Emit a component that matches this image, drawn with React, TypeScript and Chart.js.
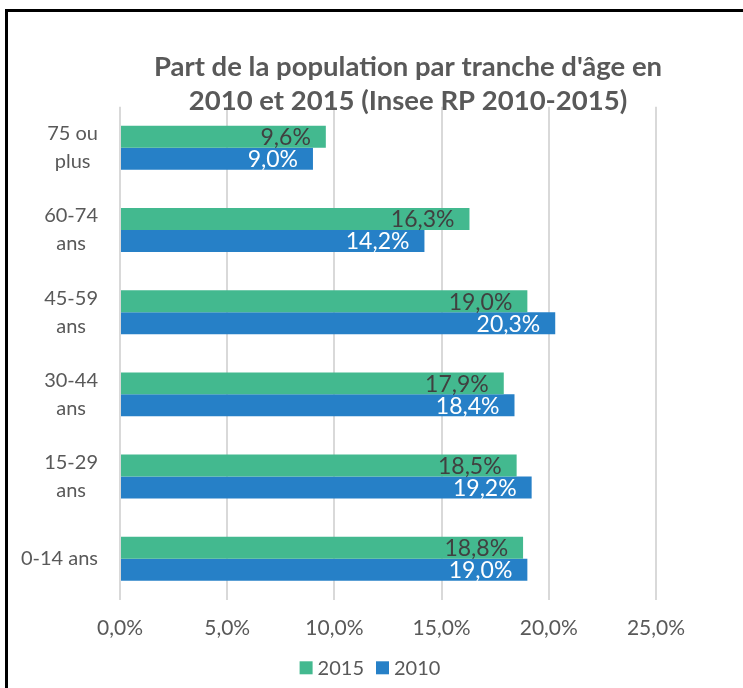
import React, { useEffect, useRef } from "react";
import { Chart, registerables } from "chart.js";

Chart.register(...registerables);

const categories: (string | string[])[] = [
  ["75 ou", "plus"],
  ["60-74", "ans"],
  ["45-59", "ans"],
  ["30-44", "ans"],
  ["15-29", "ans"],
  "0-14 ans",
];
const values2015 = [9.6, 16.3, 19.0, 17.9, 18.5, 18.8];
const values2010 = [9.0, 14.2, 20.3, 18.4, 19.2, 19.0];
const seriesNames = ["2015", "2010"];
const seriesColors = ["#43B98F", "#2680C7"];
const labelColors = ["#404040", "#FFFFFF"];
const titleLines = ["Part de la population par tranche d'âge en", "2010 et 2015 (Insee RP 2010-2015)"];

const FONT = "Lato, 'Open Sans', sans-serif";
const TEXT = "#595959";
const fmt = (v: number) => v.toFixed(1).replace(".", ",") + "%";

const dataLabelPlugin = {
  id: "dataLabels",
  afterDatasetsDraw(chart: any) {
    const ctx = chart.ctx;
    ctx.save();
    ctx.font = `23px ${FONT}`;
    ctx.textAlign = "right";
    ctx.textBaseline = "middle";
    chart.data.datasets.forEach((ds: any, di: number) => {
      const meta = chart.getDatasetMeta(di);
      meta.data.forEach((bar: any, i: number) => {
        ctx.fillStyle = labelColors[di];
        ctx.fillText(fmt(ds.data[i]), bar.x - 15, bar.y + 1);
      });
    });
    ctx.restore();
  },
};

const yLabelPlugin = {
  id: "yLabels",
  afterDraw(chart: any) {
    const ctx = chart.ctx;
    const ys = chart.scales.y;
    ctx.save();
    ctx.font = `20px ${FONT}`;
    ctx.fillStyle = TEXT;
    ctx.textAlign = "center";
    ctx.textBaseline = "middle";
    const lineH = 28;
    const right = chart.chartArea.left - 22;
    categories.forEach((c, i) => {
      const lines = Array.isArray(c) ? c : [c];
      const w = Math.max(...lines.map((l) => ctx.measureText(l).width));
      const cx = right - w / 2;
      const cy = ys.getPixelForTick(i);
      lines.forEach((l, k) => {
        ctx.fillText(l, cx, cy + (k - (lines.length - 1) / 2) * lineH);
      });
    });
    ctx.restore();
  },
};

const legendPlugin = {
  id: "customLegend",
  afterDraw(chart: any) {
    const ctx = chart.ctx;
    const area = chart.chartArea;
    ctx.save();
    ctx.font = `20px ${FONT}`;
    ctx.textBaseline = "middle";
    ctx.textAlign = "left";
    const box = 13;
    const gap = 5;
    const between = 12;
    const widths = seriesNames.map((n) => ctx.measureText(n).width);
    const total = widths.reduce((a, w) => a + box + gap + w, 0) + between * (seriesNames.length - 1);
    let x = (area.left + area.right) / 2 - 18 - total / 2;
    const y = area.bottom + 68;
    seriesNames.forEach((n, i) => {
      ctx.fillStyle = seriesColors[i];
      ctx.fillRect(x, y - box / 2, box, box);
      x += box + gap;
      ctx.fillStyle = TEXT;
      ctx.fillText(n, x, y + 1);
      x += widths[i] + between;
    });
    ctx.restore();
  },
};

export default function App() {
  const ref = useRef<HTMLCanvasElement>(null);
  useEffect(() => {
    if (!ref.current) return;
    const chart = new Chart(ref.current, {
      type: "bar",
      data: {
        labels: categories,
        datasets: [
          {
            label: seriesNames[0],
            data: values2015,
            backgroundColor: seriesColors[0],
            categoryPercentage: 0.535,
            barPercentage: 1,
          },
          {
            label: seriesNames[1],
            data: values2010,
            backgroundColor: seriesColors[1],
            categoryPercentage: 0.535,
            barPercentage: 1,
          },
        ],
      },
      options: {
        indexAxis: "y",
        animation: false,
        responsive: true,
        maintainAspectRatio: false,
        layout: { padding: { left: 14, right: 14, top: 12, bottom: 31 } },
        plugins: {
          legend: { display: false },
          tooltip: { enabled: false },
          title: {
            display: true,
            text: titleLines,
            color: TEXT,
            font: { family: FONT, size: 27.5, weight: "bold", lineHeight: 1.25 },
            padding: { top: 38, bottom: -12 },
          },
        },
        scales: {
          x: {
            min: 0,
            max: 25,
            ticks: {
              stepSize: 5,
              padding: 16,
              color: TEXT,
              font: { family: FONT, size: 21 },
              callback: (v: any) => fmt(Number(v)),
            },
            grid: { color: "#D9D9D9", lineWidth: 2, drawTicks: false },
            border: { display: false },
          },
          y: {
            ticks: { display: false },
            grid: { display: false, drawTicks: false },
            border: { display: false },
            afterFit: (s: any) => {
              s.width = 106;
            },
          },
          yRight: {
            type: "category",
            position: "right",
            ticks: { display: false },
            grid: { display: false, drawTicks: false },
            border: { display: false },
            afterFit: (s: any) => {
              s.width = 146;
            },
          },
        },
      },
      plugins: [dataLabelPlugin, yLabelPlugin, legendPlugin],
    } as any);
    return () => chart.destroy();
  }, []);

  return (
    <div style={{ position: "fixed", left: 0, top: 0, width: 743, height: 688, overflow: "hidden", background: "#fff" }}>
      <div style={{ position: "absolute", left: 0, top: 0, width: 816, height: 688 }}>
        <canvas ref={ref} />
      </div>
      <div
        style={{
          position: "absolute",
          left: 5,
          top: 9,
          width: 900,
          height: 900,
          border: "3px solid #000",
          pointerEvents: "none",
        }}
      />
    </div>
  );
}
